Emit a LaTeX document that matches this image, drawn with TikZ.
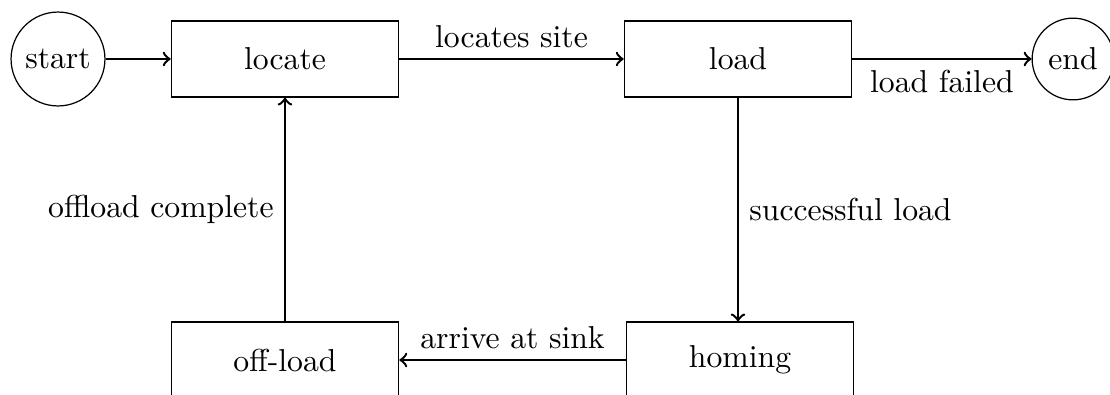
\documentclass[tikz,border=0pt]{standalone}
\usetikzlibrary{arrows}
\begin{document}
\begin{tikzpicture}[x=0.328pt,y=-0.328pt,
  font=\fontsize{10.4}{12.5}\selectfont,
  state/.style={draw,thin,rectangle,minimum width=74.6pt,minimum height=24.9pt,inner sep=0pt},
  term/.style={draw,thin,circle,inner sep=0pt},
  link/.style={->,thick}]
\useasboundingbox (0,0) rectangle (1110,394);
\node[term,minimum size=30.8pt] (start) at (58,59) {start};
\node[state] (locate) at (285,59) {locate};
\node[state] (load) at (738,59) {load};
\node[term,minimum size=26.8pt] (end) at (1073,59) {end};
\node[state] (homing) at (740,360) {homing};
\node[state] (offload) at (285,360) {off-load};
\draw[link] (start) -- (locate);
\draw[link] (locate) -- node[above] {locates site} (load);
\draw[link] (load) -- node[below] {load failed} (end);
\draw[link] (load.south) -- node[right] {successful load} (load.south |- homing.north);
\draw[link] (homing) -- node[above] {arrive at sink} (offload);
\draw[link] (offload) -- node[left] {offload complete} (locate);
\end{tikzpicture}
\end{document}
